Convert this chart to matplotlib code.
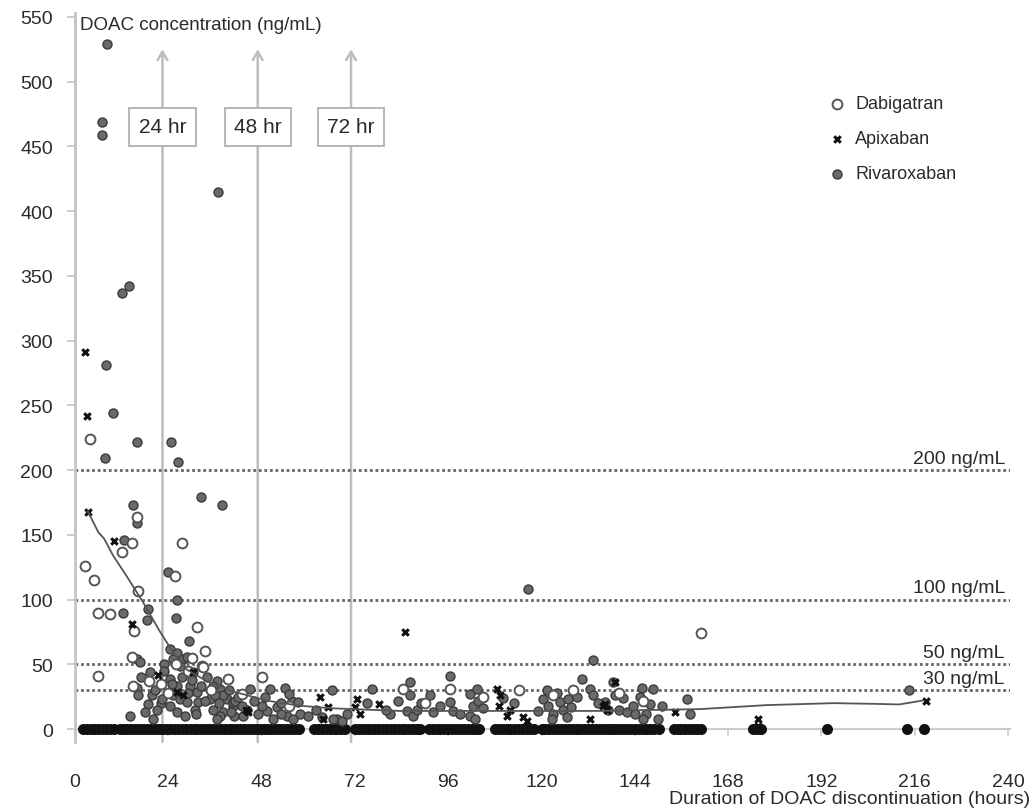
import matplotlib
matplotlib.use("Agg")
import matplotlib.pyplot as plt

plt.rcParams['font.family'] = ['Liberation Sans', 'DejaVu Sans']

# ---------------- data ----------------
x_ticks = [0, 24, 48, 72, 96, 120, 144, 168, 192, 216, 240]
y_ticks = [0, 50, 100, 150, 200, 250, 300, 350, 400, 450, 500, 550]

thresholds = [200, 100, 50, 30]
threshold_labels = ["200 ng/mL", "100 ng/mL", "50 ng/mL", "30 ng/mL"]

arrow_hours = [22.5, 47, 71]
arrow_labels = ["24 hr", "48 hr", "72 hr"]

dabigatran_h = [3.8, 2.6, 4.9, 5.9, 9.0, 12.2, 14.6, 16.2, 16.0, 25.8, 27.6, 15.2, 31.4,
                33.4, 14.7, 5.9, 32.7, 14.9, 33.0, 39.4, 48.1, 84.4, 96.4, 114.2, 161.0,
                26.0, 22.0, 35.0, 29.0, 19.0, 24.0, 30.0, 43.0, 55.0, 90.0, 105.0, 123.0,
                128.0, 140.0, 146.0]
dabigatran_v = [224, 126, 115, 90, 89, 137, 144, 107, 164, 118, 144, 76, 79,
                60, 56, 41, 49, 33, 48, 39, 40, 31, 31, 30, 74,
                50, 35, 30, 45, 37, 28, 55, 27, 18, 20, 25, 26,
                30, 28, 22]

apixaban_h = [2.6, 3.0, 3.3, 10.0, 14.7, 30.3, 26.2, 27.8, 63.0, 65.0, 63.8, 72.5, 72.0,
              73.3, 78.2, 84.8, 108.5, 109.3, 109.0, 111.0, 111.9, 115.2, 116.3, 132.5,
              136.8, 136.3, 138.9, 135.8, 154.3, 175.7, 175.7, 219.0, 44.0, 44.5, 21.4]
apixaban_v = [291, 242, 168, 145, 81, 44, 29, 26, 25, 17, 8, 23, 17,
              12, 19, 75, 31, 26, 18, 10, 15, 9, 6, 8,
              15, 19, 36, 18, 13, 8, 2, 22, 15, 13, 42]

rivaroxaban_h = [8.3, 7.0, 7.0, 36.9, 12.2, 14.0, 8.0, 9.9, 16.0, 24.8, 7.8, 26.4, 32.5,
                 37.7, 14.8, 16.0, 12.7, 12.4, 23.8, 26.2, 26.0, 18.8, 18.5, 29.3, 116.5,
                 133.3, 96.4,
                 15.9, 16.7, 24.4, 26.2, 27.8, 25.2, 27.0, 28.8, 19.3, 15.9, 16.2, 19.8,
                 18.8, 18.0, 14.1, 24.4, 26.2, 25.2, 27.0, 28.8, 24.4, 26.2, 28.3, 29.6,
                 31.4, 31.6, 30.9, 37.3, 39.0, 40.6, 38.0, 41.0, 34.7, 35.5, 30.4, 36.5,
                 35.5, 38.0, 40.7, 40.0, 37.3, 36.5, 45.0, 50.2, 54.0, 41.2, 44.2, 43.2,
                 49.4, 52.0, 51.0, 54.5, 56.0, 55.8, 57.4, 66.0, 67.4, 68.7, 76.4, 81.0,
                 86.2, 86.2, 85.4, 87.0, 88.0, 91.3, 96.4, 97.2, 92.0, 101.6, 102.4, 101.6,
                 103.4, 103.7, 102.9, 121.4, 120.4, 121.7, 123.0, 124.0, 124.7, 125.5,
                 126.5, 126.8, 122.7, 130.4, 132.5, 133.2, 138.4, 138.9, 136.3, 137.0,
                 140.0, 142.0, 143.5, 145.8, 145.3, 147.9, 148.7, 150.0, 147.0, 146.0,
                 157.4, 158.2, 214.5, 22.0, 20.0, 23.0, 21.0, 63.5, 66.4, 48.0, 53.0,
                 17.0, 20.5, 22.5, 23.0, 25.0, 27.5, 29.0, 30.0, 31.0, 32.5, 33.5, 34.0,
                 36.0, 37.0, 39.5, 42.0, 43.0, 46.0, 47.0, 49.0, 53.0, 55.0, 58.0, 60.0,
                 62.0, 70.0, 75.0, 80.0, 83.0, 89.0, 94.0, 99.0, 105.0, 110.0, 113.0,
                 119.0, 127.5, 129.0, 134.5, 141.0, 144.0, 151.0]
rivaroxaban_v = [529, 469, 459, 415, 337, 342, 281, 244, 222, 222, 209, 206, 179,
                 173, 173, 159, 146, 90, 121, 100, 86, 93, 84, 68, 108,
                 53, 41,
                 54, 52, 62, 59, 54, 54, 49, 56, 44, 32, 26, 26,
                 19, 13, 10, 39, 33, 26, 23, 21, 18, 13, 10, 33,
                 29, 21, 15, 31, 23, 18, 13, 10, 23, 15, 44, 37,
                 33, 26, 21, 13, 10, 8, 31, 31, 32, 22, 15, 10,
                 14, 17, 8, 10, 8, 22, 21, 30, 8, 6, 31, 12,
                 36, 26, 14, 10, 15, 26, 21, 14, 13, 27, 18, 10,
                 31, 22, 8, 30, 23, 18, 12, 28, 21, 15,
                 9, 23, 8, 39, 31, 26, 36, 26, 21, 15,
                 15, 13, 18, 32, 25, 19, 31, 8, 12, 8,
                 23, 12, 30, 20, 8, 50, 15, 9, 8, 18, 12,
                 40, 30, 23, 45, 35, 40, 28, 38, 12, 33, 22, 40,
                 26, 20, 30, 25, 18, 22, 12, 25, 20, 27, 12, 10,
                 15, 12, 20, 15, 22, 20, 18, 12, 16, 24, 20,
                 14, 17, 25, 20, 24, 12, 18]

# samples below the limit of detection (plotted at 0 ng/mL)
below_lod_h = [2, 3, 4, 5, 6, 7, 8, 9, 10,
               11.5, 12.5, 13.5, 14.5, 15.5, 16.5, 17.5, 18.5, 19.5, 20.5, 21.5, 22.5,
               23.5, 24.5, 25.5, 26.5, 27.5, 28.5, 29.5, 30.5, 31.5, 32.5, 33.5, 34.5,
               35.5, 36.5, 37.5, 38.5, 39.5, 40.5, 41.5, 42.5, 43.5, 44.5, 45.5, 46.5,
               47.5, 48.5, 49.5, 50.5, 51.5, 52.5, 53.5, 54.5, 55.5, 56.5, 57.5,
               61.5, 62.5, 63.5, 64.5, 65.5, 66.5, 67.5, 68.5, 69.5,
               72, 73, 74, 75, 76, 77, 78, 79, 80, 81, 82, 83, 84, 85, 86, 87, 88, 88.8,
               91, 92, 93, 94, 95, 96, 97, 98, 99, 100, 101, 102, 103, 103.8,
               108, 109, 110, 111, 112, 113, 114, 115, 116, 117, 118,
               120, 121, 122, 123, 124, 125, 126, 127, 128, 129, 130, 131, 132, 133, 134,
               135, 136, 137, 138, 139, 140, 141, 142, 143, 144, 145, 146, 147, 148, 149,
               150.2,
               154, 155, 156, 157, 158, 159, 160, 161,
               174.5, 175.5, 176.5,
               193.5, 214, 218.5]
below_lod_v = [0] * len(below_lod_h)

trend_h = [3.3, 5, 6, 7.5, 9.8, 13.3, 17.5, 21.9, 25.3, 28.7, 33.9, 40.7, 49.3, 57.8,
           66.4, 83.6, 110, 135, 160.7, 178, 195, 205, 212, 218]
trend_v = [168, 158, 152, 147, 134, 118, 98, 75, 59, 46, 37, 29, 22, 18,
           16, 14, 14, 14, 15.4, 18.5, 20, 19.5, 19, 22]

# ---------------- figure ----------------
W, H = 1033, 812
fig = plt.figure(figsize=(W / 100, H / 100), dpi=100)
ax = fig.add_axes([75 / W, 1 - 743 / H, 935 / W, 729 / H])
ax.set_xlim(0, 240.5)
ax.set_ylim(-10, 553)

txt = '#2a2a2a'
# spines
for s in ['top', 'right']:
    ax.spines[s].set_visible(False)
ax.spines['left'].set_color('#c4c4c4')
ax.spines['left'].set_linewidth(2)
ax.spines['bottom'].set_position(('data', 0))
ax.spines['bottom'].set_color('#cccccc')
ax.spines['bottom'].set_linewidth(1.5)
ax.spines['bottom'].set_zorder(0.5)

ax.set_xticks(x_ticks)
ax.set_yticks(y_ticks)
ax.tick_params(axis='y', direction='out', length=6, width=1.2, color='#c4c4c4',
               labelsize=14, labelcolor=txt, pad=10)
ax.tick_params(axis='x', direction='out', length=5, width=1.2, color='#cccccc',
               labelsize=14, labelcolor=txt, pad=27)

# vertical arrows with boxes
for xh, lab in zip(arrow_hours, arrow_labels):
    ax.annotate('', xy=(xh, 525), xytext=(xh, -10),
                arrowprops=dict(arrowstyle='->,head_length=0.6,head_width=0.35',
                                color='#bdbdbd', lw=1.8, shrinkA=0, shrinkB=0),
                zorder=1)
    ax.text(xh, 465, lab, ha='center', va='center', fontsize=15, color=txt, zorder=6,
            bbox=dict(boxstyle='square,pad=0.45', fc='white', ec='#b0b0b0', lw=1.3))

# threshold lines
for t, lab in zip(thresholds, threshold_labels):
    ax.axhline(t, color='#666666', lw=2, ls=(0, (1, 1)), zorder=2)
    ax.text(239.2, t + 2.5, lab, ha='right', va='bottom', fontsize=14, color=txt, zorder=6)

# points
ax.scatter(below_lod_h, below_lod_v, s=48, marker='o', facecolor='#111111',
           edgecolor='#111111', linewidths=1, zorder=3)
ax.scatter(rivaroxaban_h, rivaroxaban_v, s=42, marker='o', facecolor='#6a6a6a',
           edgecolor='#3a3a3a', linewidths=1, zorder=3, label='Rivaroxaban')
ax.scatter(dabigatran_h, dabigatran_v, s=50, marker='o', facecolor='white',
           edgecolor='#555555', linewidths=1.4, zorder=3.5, label='Dabigatran')
ax.scatter(apixaban_h, apixaban_v, s=22, marker='x', color='#111111',
           linewidths=2.2, zorder=4, label='Apixaban')

# trend line
ax.plot(trend_h, trend_v, color='#555555', lw=1.3, zorder=4.5)

# legend
handles, labels = ax.get_legend_handles_labels()
order = [labels.index('Dabigatran'), labels.index('Apixaban'), labels.index('Rivaroxaban')]
leg = ax.legend([handles[i] for i in order], [labels[i] for i in order],
                loc='upper left', bbox_to_anchor=(810 / W, 1 - 80 / H),
                bbox_transform=fig.transFigure, frameon=False, fontsize=13,
                handletextpad=0.4, labelspacing=1.0, handlelength=1.2,
                scatterpoints=1)
for t in leg.get_texts():
    t.set_color(txt)

# axis titles
fig.text(80 / W, 1 - 25 / H, 'DOAC concentration (ng/mL)', ha='left', va='center',
         fontsize=13.5, color=txt)
fig.text(1030 / W, 1 - 800 / H, 'Duration of DOAC discontinuation (hours)',
         ha='right', va='center', fontsize=14, color=txt)

fig.savefig('out.png', dpi=100)
